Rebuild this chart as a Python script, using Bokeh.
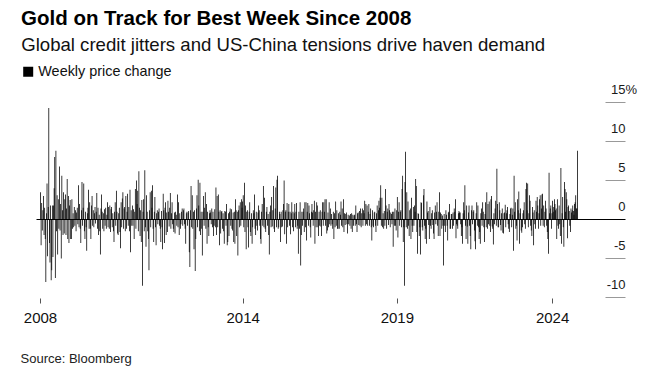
from bokeh.plotting import figure
from bokeh.models import ColumnDataSource, Range1d, FixedTicker, Title
from bokeh.core.properties import value
from bokeh.embed import file_html
from bokeh.resources import INLINE

# ---- data: weekly gold price change, % (chunks of ~52 weeks)
chunk_01 = [3.5, -3.3, 2.1, -1.4, 1.2, 3.0, -2.0, 1.5, -2.5, -8.0, 0.8, 4.6, -4.7, 1.6, 14.3, -3.0, -5.5, 1.8, -7.8, -6.5,
            1.8, -4.8, 1.8, 4.0, 8.0, -7.5, 8.8, -1.5, 3.1, -4.5, 2.6, -1.2, 6.8, -1.4, 2.0, -5.0, 5.6, 1.2, -2.0, 3.5,
            -1.8, 2.6, 3.2, -2.0, 1.4, 5.2, -2.5, 3.0, -3.0, 1.8, 2.5, -2.5]
chunk_02 = [-2.5, 2.6, -1.2, 0.8, -1.0, 1.6, -0.8, 1.2, -1.5, 0.9, 1.5, -0.6, 4.4, -1.0, 2.0, -1.2, -3.0, 1.2, 4.8, -0.8,
            1.5, 4.6, -1.5, -2.5, 1.0, -1.0, -4.0, 0.8, 1.5, 3.8, -1.2, 2.2, -1.2, -2.5, 1.8, 3.0, -0.8, 1.2, -1.0, 0.8,
            1.6, -0.5, 1.0, 3.4, -1.2, 1.5, -2.0, 0.6, -1.5, -4.5, 1.4, 3.2]
chunk_03 = [1.0, -1.2, 0.8, -1.5, 1.3, -0.8, 1.5, -1.2, 0.6, 2.2, -1.0, 1.6, -1.2, 1.8, -1.6, 1.3, 1.6, -1.0, 0.8, -1.5,
            -2.9, 1.0, 2.2, -0.8, 3.7, 1.0, -1.8, -2.0, 0.8, 1.5, -1.6, -3.7, 2.2, -1.0, 2.7, 3.5, -1.2, 1.4, 1.6, -1.5,
            3.0, -1.2, 1.0, 3.3, -0.8, 1.6, -1.5, 3.8, -4.2, 1.2, -0.8, 1.8]
chunk_04 = [-0.8, 1.3, -2.5, 1.0, 3.9, -1.2, 5.0, 2.0, 3.7, -1.5, 6.2, 1.5, -2.1, 1.2, -2.9, 2.5, -8.5, 1.0, 2.6, -1.5,
            6.3, -1.0, -3.5, 3.1, 1.0, -1.5, -2.5, -6.5, 1.2, 3.5, -1.0, 3.7, 1.5, 4.4, -1.2, -2.9, 1.0, 2.9, -1.0, -3.3,
            0.8, 1.2, -0.6, 1.0, 1.4, -0.8, -1.2, -2.9, 1.1, -1.0, -3.8, 3.3]
chunk_05 = [1.2, -3.0, 1.5, 2.2, -2.0, 0.9, -1.6, 2.4, 1.0, -0.9, 1.5, 3.4, -1.2, 0.8, 2.2, -0.6, -1.2, -1.6, 0.9, -1.8,
            1.0, 0.6, -0.8, 3.2, -1.0, 2.2, -2.0, 0.8, -1.2, -0.6, 1.0, 1.4, -0.8, 1.2, 1.4, -0.6, -1.2, -3.1, 0.8, 1.0,
            -0.8, 0.9, 1.1, -4.2, -6.1, 1.2, 4.3, -1.0, 3.1, -1.2, 1.0, -3.8]
chunk_06 = [1.2, -6.6, -2.5, 1.4, 3.1, -1.0, 5.1, 1.8, -1.5, 4.7, -2.0, 1.0, -1.2, -4.6, 1.0, 3.0, -0.8, 1.5, 3.5, -1.2,
            2.0, -3.1, 1.0, -1.0, -2.1, 0.8, 1.2, 0.9, -0.6, 1.4, -1.0, 1.0, -2.1, -0.8, 1.3, -1.0, 4.1, -2.0, 3.0, -1.0,
            3.2, 1.0, -3.3, 1.2, -1.8, 1.0, 1.1, -1.2, 0.8, -1.5, -3.1, 1.1]
chunk_07 = [1.0, -0.8, 2.0, -3.3, -2.9, 0.8, -2.1, 1.0, 1.4, -0.8, 1.3, -1.2, -1.4, 0.9, -2.9, 1.0, -3.1, 2.6, 1.2, -2.1,
            1.0, -4.6, 1.2, 1.8, -1.0, 2.2, -0.8, 2.6, 1.5, 2.3, 3.1, -1.0, 4.7, -1.6, 1.8, -3.8, 1.0, 1.2, -1.0, -3.6,
            1.0, 2.2, -1.6, -2.1, 0.8, -3.1, -1.0, 1.2, 0.8, 3.2, -1.2, -2.0]
chunk_08 = [1.0, -0.8, -1.4, 0.9, 1.8, 1.2, -0.8, -2.5, -3.1, 1.0, 2.0, -0.8, 4.3, -1.0, 2.8, -1.2, -1.6, 1.0, 1.6, -0.8,
            0.7, -2.0, -4.5, 1.0, 1.8, -1.0, 2.9, -0.9, 1.2, 4.3, -1.2, -1.6, 1.4, 4.1, -1.0, 5.1, 5.6, -1.2, -1.0, 1.0,
            0.7, -2.9, 1.0, -1.0, -0.9, 1.2, 2.0, 5.0, -1.9, 1.0, 1.2, -3.1]
chunk_09 = [2.1, -1.0, 1.0, 2.0, -0.8, 1.0, -1.9, 0.8, 2.2, -1.0, 1.0, -1.5, 0.8, 2.0, -1.0, 1.0, 2.1, -1.2, -0.8, -4.4,
            1.0, -1.2, 2.2, -5.9, -2.0, 1.0, -0.8, 1.0, 1.4, -1.6, 2.2, -1.0, 2.2, -2.7, 1.0, 2.1, -0.8, 1.8, 0.8, -1.0,
            -2.3, 1.0, 2.0, 0.9, -0.8, 1.2, 2.4, -3.1, 1.0, -1.0, 2.2, 1.8]
chunk_10 = [-1.0, -2.1, 1.0, -0.8, 1.2, -0.9, -2.1, 1.0, 2.2, -0.8, 2.2, 1.0, 2.6, -0.8, 2.6, -1.8, -1.4, 0.9, -1.0, 2.2,
            -0.6, 1.4, -0.8, 0.7, -0.6, -1.2, 1.0, -2.5, 0.8, -1.0, 2.3, -0.8, 1.2, -1.2, -1.2, 0.8, -1.2, 1.0, 0.6, 2.3,
            -0.8, 1.4, -1.0, 2.6, -1.6, 0.8, -0.7, 0.7, 0.9, -0.6, -1.8, 0.6]
chunk_11 = [-0.6, 0.5, -0.8, 0.7, -1.2, 0.8, -1.6, 0.6, -0.8, 0.5, 0.6, -0.8, 1.8, -0.6, -1.6, 0.8, 0.9, -0.7, 1.1, -0.8,
            1.4, -1.0, 0.8, 1.4, -0.8, 1.2, 0.8, 2.4, -0.8, 2.0, -0.6, 1.8, -0.8, 1.0, 2.0, -0.8, 0.7, 1.4, -1.0, -2.7,
            1.2, -0.8, -1.0, 0.9, 1.0, -0.8, -1.6, 0.8, 1.8, -0.8, 1.2, 2.4]
chunk_12 = [1.5, 2.8, 4.4, -0.8, 2.8, -1.0, 0.8, -1.2, 1.1, -0.8, 3.9, 1.8, -1.2, 1.0, 1.4, -0.7, 2.0, 1.2, -1.0, 0.9,
            0.7, -0.6, 1.0, -3.5, 1.0, -0.8, 1.4, -0.8, -1.4, 1.2, 2.9, -2.3, 1.0, 2.2, -0.8, 1.0, 1.2, -1.0, 3.9, 5.6,
            -2.9, -1.0, -8.5, 4.8, 8.7, -1.0, 3.5, -1.2, 2.3, -0.8, -2.1, 1.2]
chunk_13 = [1.4, -2.5, 2.8, -0.8, -1.6, 1.6, -0.8, 1.8, 1.0, 5.2, 4.3, -1.6, -4.4, 0.8, 0.7, -2.1, -1.0, -4.5, 2.2, 2.1,
            -1.0, -1.4, 3.1, 3.9, -0.8, -2.5, -1.2, -3.1, 2.3, 0.9, 1.1, -0.7, -2.5, 1.6, -0.8, -1.2, 0.8, 1.2, -0.7, -1.8,
            -2.5, 0.9, 1.8, -0.6, 1.0, 2.2, -0.8, -2.1, 1.0, 3.5, -2.1, 0.9]
chunk_14 = [0.7, -1.2, 0.5, -0.8, -5.9, 0.7, -0.8, -1.6, 1.2, 0.6, -0.8, -2.7, 0.9, 1.0, 2.0, -1.2, -1.2, 0.7, 0.7, -1.2,
            0.9, -0.8, 1.4, 1.0, 2.6, -2.4, -0.6, -0.8, -1.2, 0.8, 1.1, 0.9, 0.9, -0.6, -2.1, -1.0, -3.1, 0.8, 2.2, 1.2,
            4.4, -0.8, -2.5, 1.8, -0.9, -3.1, 0.9, 1.8, -0.8, -2.1, -3.8, 1.2]
chunk_15 = [1.8, -0.6, 1.0, 1.2, -1.4, -2.8, -3.8, 0.8, 2.2, -0.8, 1.8, -1.0, -2.5, -1.6, -3.1, 0.8, 1.4, -0.8, 2.2, 1.0,
            -1.0, -2.9, 0.7, 2.2, -1.0, 3.5, -1.2, 2.0, -0.6, 2.3, -0.8, -1.6, 2.6, 3.0, -0.9, -1.2, -3.2, 0.8, -0.6, 1.4,
            2.4, -0.8, 6.5, 2.0, -1.0, -1.0, 2.2, 1.2, -0.7, -1.4, 0.8, 1.4]
chunk_16 = [-1.7, -1.8, 0.8, 0.9, 1.9, -1.0, 0.8, 1.2, 1.6, -0.6, -1.2, -1.6, 0.7, 1.4, 1.5, -1.0, 0.6, 1.4, -4.0, 5.6,
            1.0, 2.2, -1.2, -0.8, -2.7, 2.6, 1.2, 3.6, -3.1, 0.8, 1.4, -1.4, -1.7, -1.0, 0.8, 1.2, 2.2, -0.6, -1.2, 3.9,
            4.7, 1.2, 4.6, -1.0, 0.8, 3.1, 2.4, -0.8, -1.4, -2.1, 1.6, 0.9]
chunk_17 = [-3.3, 1.2, -0.6, -1.2, 2.4, 1.0, 2.9, 1.8, -1.2, 0.8, 2.6, 3.1, -0.8, 1.4, 3.2, 3.3, -0.8, 1.8, -1.0, 1.0,
            2.4, 1.4, -0.8, -1.6, -2.5, -4.4, 6.0, 0.8, 1.4, 1.8, -1.2, 0.8, 2.4, 1.0, 1.6, 2.6, 2.0, 1.2, 1.4, -2.5,
            2.6, -0.8, -1.2, 1.8, -0.6, -2.1, 6.6, -3.1, 0.8, 2.9, -1.0, -3.5]
chunk_18 = [4.8, 3.9, 1.0, 3.5, 2.6, -2.4, 1.6, 1.8, 1.1, -0.8, -1.6, 1.4, 0.9, 1.2, 1.8, 1.1, 0.6, 2.0, 2.2, 3.1,
            1.4, 1.4, 8.8]

tick_index = [0, 342, 602, 864]
tick_labels = ["2008", "2014", "2019", "2024"]
y_ticks = [15, 10, 5, 0, -5, -10]
y_tick_labels = ["15", "10", "5", "0", "-5", "-10"]

weekly = (chunk_01 + chunk_02 + chunk_03 + chunk_04 + chunk_05 + chunk_06 + chunk_07 + chunk_08 + chunk_09
          + chunk_10 + chunk_11 + chunk_12 + chunk_13 + chunk_14 + chunk_15 + chunk_16 + chunk_17 + chunk_18)
n = len(weekly)

# ---- layout geometry (page pixels -> data units); the figure sits at the page's top-left corner
W, H = 645, 375
FRAME_BOTTOM = 298
FIRST_PX, LAST_PX = 40.0, 577.0
STEP = (LAST_PX - FIRST_PX) / (n - 1)
ZERO_PX, PX_PER_PCT = 219.0, 7.8


def dx(px):
    return (px - FIRST_PX) / STEP


def dy(py):
    return (ZERO_PX - py) / PX_PER_PCT


FONT = value("Liberation Sans")
LABEL_LIFT = 12.8 / PX_PER_PCT   # value labels float above their grid marks

p = figure(width=W, height=H, output_backend="svg", toolbar_location=None,
           x_range=Range1d(dx(0), dx(W)), y_range=Range1d(dy(FRAME_BOTTOM), dy(0)),
           y_axis_location=None, title=None,
           min_border_left=0, min_border_right=0, min_border_top=0, min_border_bottom=H - FRAME_BOTTOM)
p.outline_line_color = None
p.xgrid.visible = False
p.ygrid.visible = False
p.background_fill_color = "white"
p.border_fill_color = "white"

src = ColumnDataSource(dict(x=list(range(n)), top=weekly))
p.vbar(x="x", top="top", bottom=0, width=1.3, source=src, fill_color="#000000", line_color=None)

# zero line and short right-hand grid marks
p.segment(x0=[dx(36)], x1=[dx(625)], y0=[0], y1=[0], line_color="#000000", line_width=1)
gy = [t for t in y_ticks if t != 0]
p.segment(x0=[dx(605)] * len(gy), x1=[dx(625)] * len(gy), y0=gy, y1=gy, line_color="#999999", line_width=1)

# right-hand value labels sitting above the marks
p.text(x=[dx(625)] * len(y_ticks), y=[t + LABEL_LIFT for t in y_ticks], text=y_tick_labels, text_align="right",
       text_baseline="middle", text_font=FONT, text_font_size=value("13px"), text_color="#1a1a1a")
p.text(x=[dx(625)], y=[y_ticks[0] + LABEL_LIFT], text=["%"], text_align="left", text_baseline="middle",
       text_font=FONT, text_font_size=value("13px"), text_color="#1a1a1a")

# headline, subtitle, legend
p.text(x=[dx(20.5)], y=[dy(16.7)], text=["Gold on Track for Best Week Since 2008"], text_font=FONT,
       text_font_size=value("20.5px"), text_font_style="bold", text_baseline="middle", text_color="#000000")
p.text(x=[dx(20.7)], y=[dy(44)], text=["Global credit jitters and US-China tensions drive haven demand"],
       text_font=FONT, text_font_size=value("18.6px"), text_baseline="middle", text_color="#111111")
p.scatter(x=[dx(27.7)], y=[dy(71.3)], marker="square", size=10, fill_color="#000000", line_color=None)
p.text(x=[dx(37.8)], y=[dy(70.9)], text=["Weekly price change"], text_font=FONT,
       text_font_size=value("14.4px"), text_baseline="middle", text_color="#111111")

# x axis
ax = p.xaxis[0]
ax.ticker = FixedTicker(ticks=tick_index)
ax.major_label_overrides = {t: l for t, l in zip(tick_index, tick_labels)}
ax.axis_line_color = None
ax.major_tick_in = 0
ax.major_tick_out = 5
ax.major_tick_line_color = "#555555"
ax.minor_tick_line_color = None
ax.major_label_standoff = 9
ax.major_label_text_font = "Liberation Sans"
ax.major_label_text_font_size = "15px"
ax.major_label_text_color = "#111111"

# thin spacer so the source line sits lower, then the source line itself
p.add_layout(Title(text=" ", text_font_size="5px"), "below")
p.add_layout(Title(text="Source: Bloomberg", align="left", offset=20, text_font="Liberation Sans",
                   text_font_size="13px", text_font_style="normal", text_color="#222222"), "below")

open("out.html", "w").write(file_html(p, INLINE))
